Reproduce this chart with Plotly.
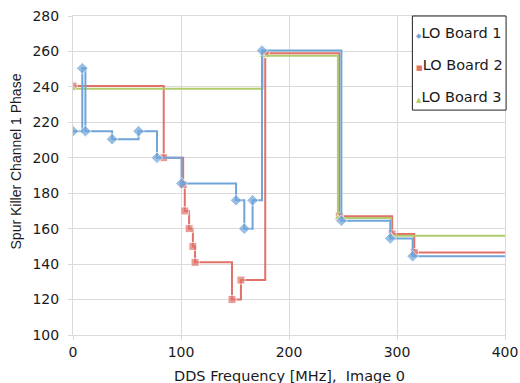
import plotly.graph_objects as go

# ---- data ----
series_names = ["LO Board 1", "LO Board 2", "LO Board 3"]

board1_x = [0, 8.6, 11.5, 36.2, 60.7, 77.8, 100.5, 151, 158.6, 166.3, 175, 248.5, 293.8, 314.5, 400]
board1_y = [215, 250.5, 215, 210.5, 215, 200, 185.5, 176, 160, 176, 260.5, 164.5, 154.5, 144.5, 144.5]

board2_x = [0, 84, 102, 103.5, 107.5, 111, 113, 147.2, 155.5, 178, 246.5, 295.5, 316, 400]
board2_y = [240.5, 200, 185, 170, 160, 150, 141, 120, 131, 259, 167, 157, 146.5, 146.5]

board3_x = [0, 175.5, 245.3, 294.4, 400]
board3_y = [239, 257.5, 166, 156, 156]

x_ticks = [0, 100, 200, 300, 400]
y_ticks = [100, 120, 140, 160, 180, 200, 220, 240, 260, 280]

x_title = "DDS Frequency [MHz],\u00a0 Image 0"
y_title = "Spur Killer Channel 1 Phase"

# ---- styles ----
BLUE = "#6fa5d9"
RED = "#e0726a"
GREEN = "#b0cc6c"
GRID = "#dadada"
TXT = "#1a1a1a"
FONT = "DejaVu Sans"


def sizes(n, s):
    # no marker on the final (line-extension) point
    return [s] * (n - 1) + [0]


fig = go.Figure()

fig.add_trace(go.Scatter(
    x=board2_x, y=board2_y, name=series_names[1], mode="lines+markers",
    line=dict(color=RED, width=2, shape="hv"),
    marker=dict(symbol="square", size=sizes(len(board2_x), 8), color=RED),
    showlegend=False,
))
fig.add_trace(go.Scatter(
    x=board3_x, y=board3_y, name=series_names[2], mode="lines+markers",
    line=dict(color=GREEN, width=2, shape="hv"),
    marker=dict(symbol="triangle-up", size=sizes(len(board3_x), 7), color=GREEN),
    showlegend=False,
))
fig.add_trace(go.Scatter(
    x=board1_x, y=board1_y, name=series_names[0], mode="lines+markers",
    line=dict(color=BLUE, width=2, shape="hv"),
    marker=dict(symbol="diamond", size=sizes(len(board1_x), 9), color=BLUE),
    showlegend=False,
))

axis_common = dict(
    showgrid=True, gridcolor=GRID, gridwidth=1, automargin=False,
    zeroline=False, showline=True, linecolor=GRID, linewidth=1, mirror=True,
    ticks="outside", ticklen=4, tickcolor=GRID,
    tickfont=dict(family=FONT, size=14, color=TXT),
)

fig.update_xaxes(range=[0, 400], tickvals=x_ticks, **axis_common)
fig.update_yaxes(range=[100, 280], tickvals=y_ticks, ticklabelstandoff=6, **axis_common)

# custom legend box (matches the compact legend of the reference)
legend_colors = [BLUE, RED, GREEN]
legend_symbols = ["\u25c6", "\u25a0", "\u25b2"]
legend_y = [0.9458, 0.8464, 0.7451]

shapes = [dict(type="rect", xref="paper", yref="paper",
               x0=0.7856, x1=1.0025, y0=0.705, y1=1.0,
               line=dict(color="#222222", width=1), fillcolor="white", layer="above")]

annotations = []
for name, col, sym, yy in zip(series_names, legend_colors, legend_symbols, legend_y):
    annotations.append(dict(
        xref="paper", yref="paper", x=0.789, y=yy, xanchor="left", yanchor="middle",
        showarrow=False,
        text=f"<span style='color:{col};font-size:7px'>{sym}</span>{name}",
        font=dict(family=FONT, size=14.5, color=TXT),
    ))

annotations.append(dict(
    xref="paper", yref="paper", x=0.5, y=0, yshift=-41, xanchor="center", yanchor="middle",
    showarrow=False, text=x_title, font=dict(family=FONT, size=14.5, color=TXT),
))
annotations.append(dict(
    xref="paper", yref="paper", x=0, xshift=-57, y=0.544, xanchor="center", yanchor="middle",
    showarrow=False, text=y_title, textangle=-90,
    font=dict(family="Liberation Sans", size=14, color=TXT),
))

fig.update_layout(
    width=520, height=383,
    margin=dict(l=73, r=15, t=16, b=48, autoexpand=False),
    paper_bgcolor="white", plot_bgcolor="white",
    shapes=shapes, annotations=annotations,
    showlegend=False,
)

fig.write_html(
    "out.html",
    config={"displayModeBar": False},
    post_script="document.body.style.margin='0';document.body.style.overflow='hidden';",
)
